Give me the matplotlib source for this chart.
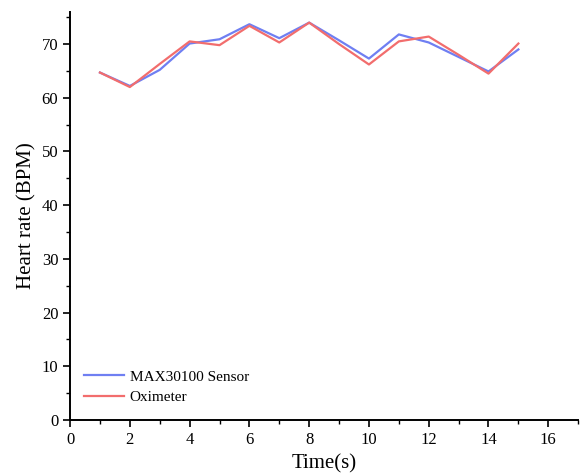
import matplotlib.pyplot as plt
from matplotlib.ticker import MultipleLocator

plt.rcParams['font.family'] = ['Liberation Serif', 'DejaVu Serif']

# heart rate readings, one per second
time_s = [1, 2, 3, 4, 5, 6, 7, 8, 9, 10, 11, 12, 13, 14, 15]
sensor_bpm = [64.7, 62.2, 65.2, 70.1, 70.9, 73.7, 71.1, 74.0, 70.7, 67.3, 71.8, 70.3, 67.6, 64.9, 69.0]
oximeter_bpm = [64.7, 62.0, 66.3, 70.5, 69.8, 73.4, 70.3, 74.0, 70.0, 66.2, 70.5, 71.4, 68.0, 64.5, 70.1]

fig = plt.figure(figsize=(5.84, 4.75), dpi=100)
ax = fig.add_axes([0.12, 0.116, 0.87, 0.859])

ax.plot(time_s, sensor_bpm, color='#6f7ff2', lw=1.6, label='MAX30100 Sensor')
ax.plot(time_s, oximeter_bpm, color='#f26d6d', lw=1.6, label='Oximeter')

ax.set_xlim(0, 17)
ax.set_ylim(0, 76)
ax.xaxis.set_major_locator(MultipleLocator(2))
ax.xaxis.set_minor_locator(MultipleLocator(1))
ax.yaxis.set_major_locator(MultipleLocator(10))
ax.yaxis.set_minor_locator(MultipleLocator(5))
ax.set_xticks(range(0, 17, 2))

for side in ['top', 'right']:
    ax.spines[side].set_visible(False)
for side in ['left', 'bottom']:
    ax.spines[side].set_linewidth(1.4)
ax.tick_params(which='major', direction='out', length=5, width=1.2, labelsize=12)
ax.tick_params(which='minor', direction='out', length=3, width=1.0)

ax.set_xlabel('Time(s)', fontsize=15)
ax.xaxis.set_label_coords(0.5, -0.085)
ax.set_ylabel('Heart rate (BPM)', fontsize=15)
ax.yaxis.set_label_coords(-0.066, 0.5)

ax.legend(loc='lower left', bbox_to_anchor=(0.0, 0.005), frameon=False,
          fontsize=11, handlelength=2.6, handletextpad=0.4, labelspacing=0.45)

fig.savefig('out.png', dpi=100)
